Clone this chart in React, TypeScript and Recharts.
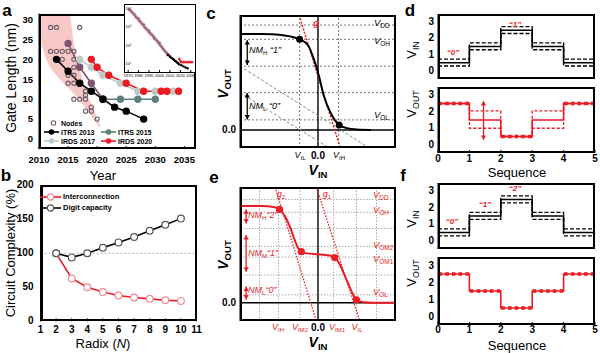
import React from 'react';
import { ComposedChart, Line, Scatter, Area, XAxis, YAxis, ReferenceLine } from 'recharts';

const W = 600;
const H = 353;
const FONT = '"Liberation Sans", Arial, sans-serif';
const RED = '#ec1c24';

// ---------- panel a: gate length roadmaps
const itrs2013 = [
  { x: 2013, y: 20 }, { x: 2015, y: 17 }, { x: 2017, y: 14 }, { x: 2019, y: 12 },
  { x: 2021, y: 10 }, { x: 2023, y: 8 }, { x: 2025, y: 7 }, { x: 2028, y: 5 },
];
const itrs2015Early = [{ x: 2015, y: 24 }, { x: 2017, y: 18 }, { x: 2019, y: 14 }, { x: 2021, y: 10 }];
const itrs2015 = [{ x: 2021, y: 10 }, { x: 2024, y: 10 }, { x: 2027, y: 10 }, { x: 2030, y: 10 }];
const irds2017 = [
  { x: 2017, y: 20 }, { x: 2019, y: 18 }, { x: 2021, y: 16 }, { x: 2024, y: 14 },
  { x: 2027, y: 12 }, { x: 2030, y: 12 }, { x: 2033, y: 12 },
];
const irds2020 = [
  { x: 2019, y: 20 }, { x: 2020, y: 18 }, { x: 2022, y: 16 }, { x: 2025, y: 14 },
  { x: 2028, y: 12 }, { x: 2031, y: 12 }, { x: 2032, y: 12 }, { x: 2034, y: 12 },
];
const nodes = [
  { x: 2012, y: 28 }, { x: 2013, y: 28 }, { x: 2017, y: 28 },
  { x: 2012, y: 22 }, { x: 2013, y: 22 }, { x: 2014, y: 22 }, { x: 2015, y: 22 }, { x: 2016, y: 22 },
  { x: 2014, y: 20 }, { x: 2016, y: 20 }, { x: 2016, y: 18 },
  { x: 2015, y: 16 }, { x: 2016, y: 16 }, { x: 2015, y: 14 }, { x: 2016, y: 14 },
  { x: 2018, y: 12 }, { x: 2018, y: 11 }, { x: 2016, y: 10 }, { x: 2017, y: 10 }, { x: 2018, y: 10 },
  { x: 2018, y: 7 }, { x: 2019, y: 8 }, { x: 2019, y: 7 }, { x: 2020, y: 5 },
];
// shaded scaling band, [lower, upper] gate length per year
const scalingBand = [
  { x: 2010.4, band: [24, 31.5] }, { x: 2011, band: [21, 31.5] }, { x: 2012, band: [17.8, 31.5] },
  { x: 2013, band: [16, 31.5] }, { x: 2014, band: [14.3, 31.5] }, { x: 2015.2, band: [12.6, 31.5] },
  { x: 2016, band: [11.3, 24] }, { x: 2016.5, band: [10.5, 20.3] }, { x: 2017.5, band: [8.7, 15] },
  { x: 2018.6, band: [6.5, 10.2] }, { x: 2019.5, band: [4.8, 7] }, { x: 2020.3, band: [3.3, 4.2] },
  { x: 2020.7, band: [3, 3] },
];
const yearTicks = [2010, 2015, 2020, 2025, 2030, 2035];
const gateTicks = [0, 5, 10, 15, 20, 25, 30];

// inset: historical gate length (log)
const insetHistory = [
  { x: 1971, y: 10000 }, { x: 1972, y: 8500 }, { x: 1973, y: 8000 }, { x: 1974, y: 6500 }, { x: 1975, y: 6000 },
  { x: 1976, y: 5000 }, { x: 1977, y: 4200 }, { x: 1978, y: 3500 }, { x: 1979, y: 3200 }, { x: 1980, y: 2600 },
  { x: 1981, y: 2200 }, { x: 1982, y: 2000 }, { x: 1983, y: 1600 }, { x: 1984, y: 1500 }, { x: 1985, y: 1200 },
  { x: 1986, y: 1000 }, { x: 1987, y: 900 }, { x: 1988, y: 750 }, { x: 1989, y: 700 }, { x: 1990, y: 550 },
  { x: 1991, y: 500 }, { x: 1992, y: 420 }, { x: 1993, y: 380 }, { x: 1994, y: 320 }, { x: 1995, y: 280 },
  { x: 1996, y: 230 }, { x: 1997, y: 200 }, { x: 1998, y: 170 }, { x: 1999, y: 140 }, { x: 2000, y: 120 },
  { x: 2001, y: 100 }, { x: 2002, y: 85 }, { x: 2003, y: 70 }, { x: 2004, y: 60 }, { x: 2005, y: 50 },
  { x: 2006, y: 44 }, { x: 2007, y: 38 }, { x: 2008, y: 33 }, { x: 2009, y: 29 }, { x: 2010, y: 26 },
  { x: 1980, y: 3000 }, { x: 1985, y: 1400 }, { x: 1990, y: 650 }, { x: 1995, y: 240 }, { x: 2000, y: 140 },
];
const insetItrs = [
  { x: 2008, y: 30 }, { x: 2010, y: 24 }, { x: 2011, y: 22 }, { x: 2012, y: 20 }, { x: 2013, y: 18 },
  { x: 2014, y: 16 }, { x: 2015, y: 14 }, { x: 2016, y: 13 }, { x: 2017, y: 11 }, { x: 2018, y: 10 },
  { x: 2019, y: 9 }, { x: 2021, y: 8 }, { x: 2023, y: 7 }, { x: 2025, y: 6 }, { x: 2027, y: 5.5 },
];
const insetIrds = [
  { x: 2019, y: 18 }, { x: 2020, y: 14 }, { x: 2021, y: 12 }, { x: 2023, y: 12 }, { x: 2025, y: 12 },
  { x: 2027, y: 12 }, { x: 2029, y: 12 }, { x: 2031, y: 12 },
];
const insetYearTicks = [1970, 1980, 1990, 2000, 2010, 2020, 2030];
const insetLogTicks = [10, 100, 1000, 10000];
const insetLogLabels: Record<number, string> = { 10: '10¹', 100: '10²', 1000: '10³', 10000: '10⁴' };

// ---------- panel b: circuit complexity vs radix
const interconnection = [
  { x: 2, y: 100 }, { x: 3, y: 63 }, { x: 4, y: 50 }, { x: 5, y: 43 }, { x: 6, y: 38 },
  { x: 7, y: 35 }, { x: 8, y: 33 }, { x: 9, y: 31 }, { x: 10, y: 30 },
];
const digitCapacity = [
  { x: 2, y: 100 }, { x: 3, y: 94 }, { x: 4, y: 100 }, { x: 5, y: 108 }, { x: 6, y: 116 },
  { x: 7, y: 124 }, { x: 8, y: 133 }, { x: 9, y: 142 }, { x: 10, y: 151 },
];
const radixTicks = [1, 2, 3, 4, 5, 6, 7, 8, 9, 10, 11];
const complexityTicks = [0, 50, 100, 150, 200];

// ---------- panel c: binary inverter transfer curve
const binaryVtc = [
  { x: -1.4, y: 2.29 }, { x: -1.0, y: 2.285 }, { x: -0.7, y: 2.27 }, { x: -0.5, y: 2.23 },
  { x: -0.33, y: 2.16 }, { x: -0.18, y: 2.02 }, { x: -0.07, y: 1.67 }, { x: 0.02, y: 1.27 },
  { x: 0.11, y: 0.79 }, { x: 0.23, y: 0.4 }, { x: 0.38, y: 0.12 }, { x: 0.5, y: 0.05 },
  { x: 0.7, y: 0.01 }, { x: 0.95, y: 0 },
];
const binaryPoints = [{ x: -0.33, y: 2.16 }, { x: 0.38, y: 0.12 }];
const binaryGain = [{ x: -0.34, y: 2.74 }, { x: 0.4, y: -0.43 }];
const binaryLoadA = [{ x: -1.4, y: 1.52 }, { x: 0.92, y: -0.43 }];
const binaryLoadB = [{ x: -1.4, y: 0.89 }, { x: 0.2, y: -0.43 }];
const binaryLevels = [2.5, 2.16, 1.52, 0.89, 0.24];
const binaryInputs = [-0.33, 0.37];
const binaryMargins = [{ x: -1.27, top: 2.14, bottom: 1.55 }, { x: -1.27, top: 0.88, bottom: 0.25 }];

// ---------- panel e: ternary inverter transfer curve
const ternaryVtc = [
  { x: -1.4, y: 2.33 }, { x: -1.0, y: 2.33 }, { x: -0.8, y: 2.31 }, { x: -0.69, y: 2.25 },
  { x: -0.6, y: 2.1 }, { x: -0.5, y: 1.82 }, { x: -0.42, y: 1.52 }, { x: -0.35, y: 1.3 },
  { x: -0.3, y: 1.23 }, { x: -0.2, y: 1.19 }, { x: 0, y: 1.17 }, { x: 0.2, y: 1.14 },
  { x: 0.3, y: 1.09 }, { x: 0.38, y: 0.95 }, { x: 0.45, y: 0.75 }, { x: 0.53, y: 0.5 },
  { x: 0.6, y: 0.28 }, { x: 0.69, y: 0.07 }, { x: 0.8, y: 0.02 }, { x: 1.0, y: 0 }, { x: 1.4, y: 0 },
];
const ternaryPoints = [{ x: -0.69, y: 2.25 }, { x: -0.3, y: 1.23 }, { x: 0.3, y: 1.09 }, { x: 0.69, y: 0.07 }];
const ternaryG2 = [{ x: -0.77, y: 2.79 }, { x: -0.03, y: -0.44 }];
const ternaryG1 = [{ x: -0.03, y: 2.79 }, { x: 0.75, y: -0.44 }];
const ternaryLevels = [2.49, 2.18, 1.79, 1.36, 1.1, 0.67, 0.19];
const ternaryInputs = [-1.05, -0.71, -0.32, 0.28, 0.69, 1.05];
const ternaryMargins = [
  { x: -1.29, top: 2.25, bottom: 1.91 }, { x: -1.29, top: 1.63, bottom: 0.75 }, { x: -1.29, top: 0.39, bottom: 0.08 },
];

// ---------- panels d, f: input / output sequences
const seqTicks = [0, 1, 2, 3, 4, 5];
const levelTicks = [0, 1, 2, 3];
const vin = [{ x: 0, y: 0.5 }, { x: 1, y: 1.5 }, { x: 2, y: 2.5 }, { x: 3, y: 1.5 }, { x: 4, y: 0.5 }, { x: 5, y: 0.5 }];
const vinHigh = [{ x: 0, y: 0.72 }, { x: 1, y: 1.72 }, { x: 2, y: 2.72 }, { x: 3, y: 1.72 }, { x: 4, y: 0.72 }, { x: 5, y: 0.72 }];
const vinLow = [{ x: 0, y: 0.3 }, { x: 1, y: 1.3 }, { x: 2, y: 2.3 }, { x: 3, y: 1.3 }, { x: 4, y: 0.3 }, { x: 5, y: 0.3 }];
const voutBinary = [{ x: 0, y: 2.5 }, { x: 1, y: 1.5 }, { x: 2, y: 0.5 }, { x: 3, y: 1.5 }, { x: 4, y: 2.5 }, { x: 5, y: 2.5 }];
const voutBinaryHigh = [{ x: 0, y: 2.5 }, { x: 1, y: 2.05 }, { x: 2, y: 0.5 }, { x: 3, y: 2.05 }, { x: 4, y: 2.5 }, { x: 5, y: 2.5 }];
const voutBinaryLow = [{ x: 0, y: 2.5 }, { x: 1, y: 1.0 }, { x: 2, y: 0.5 }, { x: 3, y: 1.0 }, { x: 4, y: 2.5 }, { x: 5, y: 2.5 }];
const voutBinaryMarks = [
  { x: 0.07, y: 2.5 }, { x: 0.29, y: 2.5 }, { x: 0.5, y: 2.5 }, { x: 0.71, y: 2.5 }, { x: 0.93, y: 2.5 },
  { x: 2.07, y: 0.5 }, { x: 2.29, y: 0.5 }, { x: 2.5, y: 0.5 }, { x: 2.71, y: 0.5 }, { x: 2.93, y: 0.5 },
  { x: 4.07, y: 2.5 }, { x: 4.29, y: 2.5 }, { x: 4.5, y: 2.5 }, { x: 4.71, y: 2.5 }, { x: 4.93, y: 2.5 },
];
const voutBinarySwing = [{ x: 1.45, top: 2.65, bottom: 0.3 }];
const voutTernary = [{ x: 0, y: 2.5 }, { x: 1, y: 1.5 }, { x: 2, y: 0.5 }, { x: 3, y: 1.5 }, { x: 4, y: 2.5 }, { x: 5, y: 2.5 }];
const voutTernaryMarks = [
  { x: 0.07, y: 2.5 }, { x: 0.29, y: 2.5 }, { x: 0.5, y: 2.5 }, { x: 0.71, y: 2.5 }, { x: 0.93, y: 2.5 },
  { x: 1.07, y: 1.5 }, { x: 1.29, y: 1.5 }, { x: 1.5, y: 1.5 }, { x: 1.71, y: 1.5 }, { x: 1.93, y: 1.5 },
  { x: 2.07, y: 0.5 }, { x: 2.29, y: 0.5 }, { x: 2.5, y: 0.5 }, { x: 2.71, y: 0.5 }, { x: 2.93, y: 0.5 },
  { x: 3.07, y: 1.5 }, { x: 3.29, y: 1.5 }, { x: 3.5, y: 1.5 }, { x: 3.71, y: 1.5 }, { x: 3.93, y: 1.5 },
  { x: 4.07, y: 2.5 }, { x: 4.29, y: 2.5 }, { x: 4.5, y: 2.5 }, { x: 4.71, y: 2.5 }, { x: 4.93, y: 2.5 },
];

// plot frames in page pixels [left, top, right, bottom]
const boxA: number[] = [39, 13.5, 196, 149];
const boxInset: number[] = [124, 4, 196, 73];
const boxB: number[] = [40.5, 185.3, 196.5, 321.3];
const boxC: number[] = [240, 15, 396, 148];
const boxE: number[] = [240, 187, 396, 321];
const boxD1: number[] = [438, 14, 595, 79];
const boxD2: number[] = [438, 87, 595, 153];
const boxF1: number[] = [438, 183, 595, 249];
const boxF2: number[] = [438, 257, 595, 325];

// ---------- helpers
const Sub = ({ children }: any) => (
  <span style={{ fontSize: '0.68em', verticalAlign: '-0.3em', fontStyle: 'normal' }}>{children}</span>
);

function Txt({ x, y, children, size = 10, bold = false, italic = false, color = '#000', align = 'center', rot = 0 }: any) {
  const tx = align === 'center' ? '-50%' : align === 'right' ? '-100%' : '0';
  return (
    <div
      style={{
        position: 'absolute', left: x, top: y, transform: `translate(${tx},-50%) rotate(${rot}deg)`,
        fontFamily: FONT, fontSize: size, fontWeight: bold ? 700 : 400, fontStyle: italic ? 'italic' : 'normal',
        color, whiteSpace: 'nowrap', lineHeight: 1,
      }}
    >
      {children}
    </div>
  );
}

// y tick labels beside a frame, on the same domain as its axis
function yLabels(id: string, box: number[], domain: number[], ticks: number[], size: number, gap: number, log = false, fmt?: any) {
  const [l, t, , b] = box;
  const f = (v: number) => (log ? Math.log10(v) : v);
  const lo = f(domain[0]);
  const hi = f(domain[1]);
  return ticks.map((v) => {
    const top = t + ((hi - f(v)) / (hi - lo)) * (b - t);
    const text = fmt ? fmt(v) : String(v);
    return log ? (
      <div key={`${id}${v}`} style={{ position: 'absolute', left: l + 1.5, top: top - size / 2, fontFamily: FONT, fontSize: size, lineHeight: 1, color: '#000', whiteSpace: 'nowrap' }}>
        {text}
      </div>
    ) : (
      <div key={`${id}${v}`} style={{ position: 'absolute', left: l - gap - 30, width: 30, top: top - size / 2, textAlign: 'right', fontFamily: FONT, fontSize: size, fontWeight: 700, lineHeight: 1, color: '#000', whiteSpace: 'nowrap' }}>
        {text}
      </div>
    );
  });
}

// area = [left, top, width, height] of the chart itself; box = plot frame in page pixels
function Plot({
  area, box, xDomain, yDomain, xTicks, yTicks, xLabels = true, yScale, fs = 'fs10',
  xMargin = 6, bg = false, border = 2, yw = 30, xh = 20, children,
}: any) {
  const [ox, oy, cw, ch] = area;
  const [l, t, r, b] = box;
  const yProps: any = yScale ? { scale: yScale } : {};
  return (
    <>
      {bg && <div style={{ position: 'absolute', left: l, top: t, width: r - l, height: b - t, background: '#fff' }} />}
      <div className={fs} style={{ position: 'absolute', left: ox, top: oy, width: cw, height: ch }}>
        <ComposedChart
          width={cw} height={ch}
          margin={{ top: t - oy, left: l - ox - yw, right: ox + cw - r, bottom: oy + ch - b - xh }}
        >
          <XAxis
            type="number" dataKey="x" domain={xDomain} ticks={xTicks} allowDataOverflow interval={0} height={xh}
            stroke="#000" axisLine={false} tick={!!(xTicks && xLabels)}
            tickLine={!!xTicks} tickSize={-3} tickMargin={xMargin}
          />
          <YAxis
            {...yProps}
            type="number" dataKey="y" domain={yDomain} ticks={yTicks} allowDataOverflow interval={0} width={yw}
            stroke="#000" tick={false} tickLine={!!yTicks} tickSize={-3}
          />
          {children}
        </ComposedChart>
      </div>
      <div
        style={{
          position: 'absolute', left: l, top: t, width: r - l, height: b - t,
          border: `${border}px solid #000`, boxSizing: 'border-box', pointerEvents: 'none',
        }}
      />
    </>
  );
}

const arrowShape = (color: string) => (p: any) => {
  const { cx, cy, payload } = p;
  const s = 2.6;
  const h = payload.dir === 'up' ? s * 1.7 : -s * 1.7;
  return <path d={`M${cx},${cy} L${cx - s},${cy + h} L${cx + s},${cy + h} Z`} fill={color} />;
};

const squareShape = (p: any) => <rect x={p.cx - 1.8} y={p.cy - 1.8} width={3.6} height={3.6} fill={RED} />;

function arrowLines(list: any[], color: string, id: string) {
  return list.map((a, i) => (
    <Line
      key={`${id}${i}`} data={[{ x: a.x, y: a.top }, { x: a.x, y: a.bottom }]} dataKey="y"
      stroke={color} strokeWidth={1.3} dot={false} activeDot={false} isAnimationActive={false}
    />
  ));
}
function arrowHeads(list: any[]) {
  const pts: any[] = [];
  list.forEach((a) => {
    pts.push({ x: a.x, y: a.top, dir: 'up' });
    pts.push({ x: a.x, y: a.bottom, dir: 'down' });
  });
  return pts;
}

function LegendRow({ x, y, color, label, len = 15, dot = 'fill', size = 7 }: any) {
  return (
    <>
      <svg style={{ position: 'absolute', left: x, top: y - 5 }} width={len} height={10}>
        {dot !== 'only' && <line x1={0} y1={5} x2={len} y2={5} stroke={color} strokeWidth={1.6} />}
        {dot === 'fill' && <circle cx={len / 2} cy={5} r={2.8} fill={color} />}
        {dot === 'hollow' && <circle cx={len / 2} cy={5} r={3.2} fill="#fff" stroke={color === RED ? '#f08a94' : '#555'} strokeWidth={1.2} />}
        {dot === 'only' && <circle cx={len / 2} cy={5} r={2.2} fill="none" stroke="#6e5a6b" strokeWidth={1.1} />}
      </svg>
      <Txt x={x + len + 2} y={y} size={size} bold align="left">{label}</Txt>
    </>
  );
}

const GRAY15 = '#5e7f7b';
const GRAY17 = '#bfcac7';
const MAUVE = '#7e5470';

const css = `
.fs10 .recharts-cartesian-axis-tick-value, .fs95 .recharts-cartesian-axis-tick-value, .fs4 .recharts-cartesian-axis-tick-value {
  font-family: "Liberation Sans", Arial, sans-serif; font-weight: 700; fill: #000;
}
.fs10 .recharts-cartesian-axis-tick-value { font-size: 10px; }
.fs95 .recharts-cartesian-axis-tick-value { font-size: 9.5px; }
.fs4 .recharts-cartesian-axis-tick-value { font-size: 4px; font-weight: 400; }
`;

export default function App() {
  const sq = (v: string) => <>“{v}”</>;
  return (
    <div style={{ position: 'absolute', left: 0, top: 0, width: W, height: H, background: '#fff' }}>
      <style>{css}</style>
      {/* ---------------- a ---------------- */}
      <Plot area={[0, 0, 200, 170]} box={boxA} xDomain={[2010, 2037]} yDomain={[-2.5, 31.5]}
        xTicks={yearTicks} yTicks={gateTicks} xMargin={10} fs="fs95">
        <Area data={scalingBand} dataKey="band" type="monotone" stroke="none" fill="#f6c9c6" fillOpacity={1} isAnimationActive={false} />
        <Scatter data={nodes} dataKey="y" isAnimationActive={false}
          shape={(p: any) => <circle cx={p.cx} cy={p.cy} r={2.1} fill="none" stroke="#6e5a6b" strokeWidth={1.1} />} />
        <Line data={irds2017} dataKey="y" stroke={GRAY17} strokeWidth={1.6} dot={{ r: 2.9, fill: GRAY17, stroke: GRAY17 }} activeDot={false} isAnimationActive={false} />
        <Line data={itrs2015} dataKey="y" stroke={GRAY15} strokeWidth={1.6} dot={{ r: 2.9, fill: GRAY15, stroke: GRAY15 }} activeDot={false} isAnimationActive={false} />
        <Line data={itrs2015Early} dataKey="y" stroke={MAUVE} strokeWidth={1.6} dot={{ r: 2.9, fill: MAUVE, stroke: MAUVE }} activeDot={false} isAnimationActive={false} />
        <Line data={irds2020} dataKey="y" stroke={RED} strokeWidth={1.6} dot={{ r: 2.9, fill: RED, stroke: RED }} activeDot={false} isAnimationActive={false} />
        <Line data={itrs2013} dataKey="y" stroke="#000" strokeWidth={1.6} dot={{ r: 2.9, fill: '#000', stroke: '#000' }} activeDot={false} isAnimationActive={false} />
      </Plot>
      <Plot area={[122, 2, 76, 80]} box={boxInset} xDomain={[1966, 2035]} yDomain={[3, 20000]} yScale="log"
        xTicks={insetYearTicks} yTicks={insetLogTicks} xMargin={4} yw={0} xh={8} bg border={1} fs="fs4">
        <Scatter data={insetHistory} dataKey="y" isAnimationActive={false}
          shape={(p: any) => <circle cx={p.cx} cy={p.cy} r={1.3} fill="#8c5a6c" stroke="#c48c98" strokeWidth={0.5} />} />
        <Scatter data={insetItrs} dataKey="y" isAnimationActive={false}
          shape={(p: any) => <circle cx={p.cx} cy={p.cy} r={1.2} fill="#000" />} />
        <Scatter data={insetIrds} dataKey="y" isAnimationActive={false}
          shape={(p: any) => <circle cx={p.cx} cy={p.cy} r={1.3} fill={RED} />} />
      </Plot>
      <LegendRow x={48} y={122.7} color="#6e5a6b" label="Nodes" len={11} dot="only" />
      <LegendRow x={44} y={131.7} color="#000" label="ITRS 2013" />
      <LegendRow x={101} y={131.7} color={GRAY15} label="ITRS 2015" />
      <LegendRow x={44} y={140.7} color={GRAY17} label="IRDS 2017" />
      <LegendRow x={101} y={140.7} color={RED} label="IRDS 2020" />
      <Txt x={11} y={78} size={14} rot={-90}>Gate Length (nm)</Txt>
      <Txt x={103} y={174.5} size={13}>Year</Txt>
      <Txt x={7} y={10} size={17} bold>a</Txt>

      {/* ---------------- b ---------------- */}
      <Plot area={[0, 172, 206, 181]} box={boxB} xDomain={[1, 11]} yDomain={[0, 200]}
        xTicks={radixTicks} yTicks={complexityTicks} xMargin={8}>
        <ReferenceLine y={100} stroke="#b5b5b5" strokeDasharray="2 2" strokeWidth={1} />
        <Line data={interconnection} dataKey="y" stroke={RED} strokeWidth={1.6}
          dot={{ r: 3.4, fill: '#fff', stroke: '#f08a94', strokeWidth: 1.2 }} activeDot={false} isAnimationActive={false} />
        <Line data={digitCapacity} dataKey="y" stroke="#000" strokeWidth={1.6}
          dot={{ r: 3.4, fill: '#fff', stroke: '#555', strokeWidth: 1.2 }} activeDot={false} isAnimationActive={false} />
      </Plot>
      <LegendRow x={40} y={197.3} color={RED} label="Interconnection" len={21} dot="hollow" size={7.5} />
      <LegendRow x={40} y={207.7} color="#000" label="Digit capacity" len={21} dot="hollow" size={7.5} />
      <Txt x={10} y={253} size={13} rot={-90}>Circuit Complexity (%)</Txt>
      <Txt x={103} y={343} size={13}>Radix (<i>N</i>)</Txt>
      <Txt x={6} y={175} size={17} bold>b</Txt>

      {/* ---------------- c ---------------- */}
      <Plot area={[200, 0, 200, 170]} box={boxC} xDomain={[-1.4, 1.4]} yDomain={[-0.43, 2.74]}>
        {binaryLevels.map((v) => <ReferenceLine key={`cl${v}`} y={v} stroke="#777" strokeDasharray="2 2" strokeWidth={1} />)}
        {binaryInputs.map((v) => <ReferenceLine key={`ci${v}`} x={v} stroke="#777" strokeDasharray="2 2" strokeWidth={1} />)}
        <ReferenceLine x={0} stroke="#000" strokeWidth={1.4} />
        <ReferenceLine y={0} stroke="#000" strokeWidth={1.4} />
        <Line data={binaryLoadA} dataKey="y" stroke="#7d9088" strokeDasharray="3 2" strokeWidth={1} dot={false} activeDot={false} isAnimationActive={false} />
        <Line data={binaryLoadB} dataKey="y" stroke="#7d9088" strokeDasharray="3 2" strokeWidth={1} dot={false} activeDot={false} isAnimationActive={false} />
        <Line data={binaryGain} dataKey="y" stroke={RED} strokeDasharray="2 1.5" strokeWidth={1.5} dot={false} activeDot={false} isAnimationActive={false} />
        <Line data={binaryVtc} dataKey="y" type="monotone" stroke="#000" strokeWidth={2} dot={false} activeDot={false} isAnimationActive={false} />
        <Scatter data={binaryPoints} dataKey="y" isAnimationActive={false} shape={(p: any) => <circle cx={p.cx} cy={p.cy} r={3.5} fill="#000" />} />
        {arrowLines(binaryMargins, '#000', 'cm')}
        <Scatter data={arrowHeads(binaryMargins)} dataKey="y" isAnimationActive={false} shape={arrowShape('#000')} />
      </Plot>
      <Txt x={249} y={50.5} size={9} italic align="left">NM<Sub>H</Sub> {sq('1')}</Txt>
      <Txt x={249} y={107} size={9} italic align="left">NM<Sub>L</Sub> {sq('0')}</Txt>
      <Txt x={374} y={24} size={9.5} italic align="left">V<Sub>DD</Sub></Txt>
      <Txt x={374} y={42} size={9.5} italic align="left">V<Sub>OH</Sub></Txt>
      <Txt x={374} y={116} size={9.5} italic align="left">V<Sub>OL</Sub></Txt>
      <Txt x={316} y={23} size={9} italic bold color={RED}>g</Txt>
      <Txt x={236} y={130} size={10} bold align="right">0.0</Txt>
      <Txt x={300} y={156} size={9} italic>V<Sub>IL</Sub></Txt>
      <Txt x={318} y={156} size={10} bold>0.0</Txt>
      <Txt x={339} y={156} size={9} italic>V<Sub>IH</Sub></Txt>
      <Txt x={318} y={171} size={14} bold><i>V</i><Sub>IN</Sub></Txt>
      <Txt x={224} y={84} size={14} bold rot={-90}><i>V</i><Sub>OUT</Sub></Txt>
      <Txt x={211} y={13} size={17} bold>c</Txt>

      {/* ---------------- e ---------------- */}
      <Plot area={[200, 172, 200, 181]} box={boxE} xDomain={[-1.4, 1.4]} yDomain={[-0.44, 2.79]}>
        {ternaryLevels.map((v) => <ReferenceLine key={`el${v}`} y={v} stroke="#aaa" strokeDasharray="1.5 1.5" strokeWidth={1} />)}
        {ternaryInputs.map((v) => <ReferenceLine key={`ei${v}`} x={v} stroke="#aaa" strokeDasharray="1.5 1.5" strokeWidth={1} />)}
        <ReferenceLine x={0} stroke="#000" strokeWidth={1.4} />
        <ReferenceLine y={0} stroke="#000" strokeWidth={1.4} />
        <Line data={ternaryG2} dataKey="y" stroke={RED} strokeDasharray="1.5 1.5" strokeWidth={1.3} dot={false} activeDot={false} isAnimationActive={false} />
        <Line data={ternaryG1} dataKey="y" stroke={RED} strokeDasharray="1.5 1.5" strokeWidth={1.3} dot={false} activeDot={false} isAnimationActive={false} />
        <Line data={ternaryVtc} dataKey="y" type="monotone" stroke={RED} strokeWidth={2} dot={false} activeDot={false} isAnimationActive={false} />
        <Scatter data={ternaryPoints} dataKey="y" isAnimationActive={false} shape={(p: any) => <circle cx={p.cx} cy={p.cy} r={3.6} fill={RED} />} />
        {arrowLines(ternaryMargins, RED, 'em')}
        <Scatter data={arrowHeads(ternaryMargins)} dataKey="y" isAnimationActive={false} shape={arrowShape(RED)} />
      </Plot>
      <Txt x={248} y={216} size={9} italic align="left" color={RED}>NM<Sub>H</Sub>{sq('2')}</Txt>
      <Txt x={248} y={254} size={9} italic align="left" color={RED}>NM<Sub>M</Sub>{sq('1')}</Txt>
      <Txt x={248} y={291} size={9} italic align="left" color={RED}>NM<Sub>L</Sub>{sq('0')}</Txt>
      <Txt x={373} y={196} size={9.5} italic align="left" color={RED}>V<Sub>DD</Sub></Txt>
      <Txt x={373} y={211} size={9.5} italic align="left" color={RED}>V<Sub>OH</Sub></Txt>
      <Txt x={373} y={246} size={9.5} italic align="left" color={RED}>V<Sub>OM2</Sub></Txt>
      <Txt x={373} y={260} size={9.5} italic align="left" color={RED}>V<Sub>OM1</Sub></Txt>
      <Txt x={373} y={293} size={9.5} italic align="left" color={RED}>V<Sub>OL</Sub></Txt>
      <Txt x={281} y={195} size={9} italic color={RED}>g<Sub>2</Sub></Txt>
      <Txt x={327} y={195} size={9} italic color={RED}>g<Sub>1</Sub></Txt>
      <Txt x={236} y={303} size={10} bold align="right">0.0</Txt>
      <Txt x={278} y={328} size={9} italic color={RED}>V<Sub>IH</Sub></Txt>
      <Txt x={300} y={328} size={9} italic color={RED}>V<Sub>IM2</Sub></Txt>
      <Txt x={318} y={328} size={10} bold>0.0</Txt>
      <Txt x={337} y={328} size={9} italic color={RED}>V<Sub>IM1</Sub></Txt>
      <Txt x={357} y={328} size={9} italic color={RED}>V<Sub>IL</Sub></Txt>
      <Txt x={318} y={343} size={14} bold><i>V</i><Sub>IN</Sub></Txt>
      <Txt x={224} y={255} size={14} bold rot={-90}><i>V</i><Sub>OUT</Sub></Txt>
      <Txt x={214} y={177} size={17} bold>e</Txt>

      {/* ---------------- d ---------------- */}
      <Plot area={[400, 0, 200, 83]} box={boxD1} xDomain={[0, 5]} yDomain={[-0.5, 3.5]}
        xTicks={seqTicks} yTicks={levelTicks} xLabels={false} xh={4}>
        <Line data={vinHigh} dataKey="y" type="stepAfter" stroke="#000" strokeDasharray="4 2" strokeWidth={1.3} dot={false} activeDot={false} isAnimationActive={false} />
        <Line data={vinLow} dataKey="y" type="stepAfter" stroke="#000" strokeDasharray="4 2" strokeWidth={1.3} dot={false} activeDot={false} isAnimationActive={false} />
        <Line data={vin} dataKey="y" type="stepAfter" stroke="#000" strokeWidth={1.6} dot={false} activeDot={false} isAnimationActive={false} />
      </Plot>
      <Plot area={[400, 83, 200, 90]} box={boxD2} xDomain={[0, 5]} yDomain={[-0.5, 3.5]}
        xTicks={seqTicks} yTicks={levelTicks} xMargin={5}>
        <Line data={voutBinaryHigh} dataKey="y" type="stepAfter" stroke={RED} strokeDasharray="3 2" strokeWidth={1.3} dot={false} activeDot={false} isAnimationActive={false} />
        <Line data={voutBinaryLow} dataKey="y" type="stepAfter" stroke={RED} strokeDasharray="3 2" strokeWidth={1.3} dot={false} activeDot={false} isAnimationActive={false} />
        <Line data={voutBinary} dataKey="y" type="stepAfter" stroke={RED} strokeWidth={1.6} dot={false} activeDot={false} isAnimationActive={false} />
        <Scatter data={voutBinaryMarks} dataKey="y" isAnimationActive={false} shape={squareShape} />
        {arrowLines(voutBinarySwing, RED, 'dm')}
        <Scatter data={arrowHeads(voutBinarySwing)} dataKey="y" isAnimationActive={false} shape={arrowShape(RED)} />
      </Plot>
      <Txt x={453} y={53} size={8} italic bold color={RED}>{sq('0')}</Txt>
      <Txt x={515} y={25} size={8} italic bold color={RED}>{sq('1')}</Txt>
      <Txt x={413} y={50} size={13} rot={-90}>V<Sub>IN</Sub></Txt>
      <Txt x={413} y={104} size={13} rot={-90}>V<Sub>OUT</Sub></Txt>
      <Txt x={517} y={172} size={13}>Sequence</Txt>
      <Txt x={410} y={10} size={17} bold>d</Txt>

      {/* ---------------- f ---------------- */}
      <Plot area={[400, 173, 200, 80]} box={boxF1} xDomain={[0, 5]} yDomain={[-0.5, 3.5]}
        xTicks={seqTicks} yTicks={levelTicks} xLabels={false} xh={4}>
        <Line data={vinHigh} dataKey="y" type="stepAfter" stroke="#000" strokeDasharray="4 2" strokeWidth={1.3} dot={false} activeDot={false} isAnimationActive={false} />
        <Line data={vinLow} dataKey="y" type="stepAfter" stroke="#000" strokeDasharray="4 2" strokeWidth={1.3} dot={false} activeDot={false} isAnimationActive={false} />
        <Line data={vin} dataKey="y" type="stepAfter" stroke="#000" strokeWidth={1.6} dot={false} activeDot={false} isAnimationActive={false} />
      </Plot>
      <Plot area={[400, 253, 200, 100]} box={boxF2} xDomain={[0, 5]} yDomain={[-0.5, 3.5]}
        xTicks={seqTicks} yTicks={levelTicks} xMargin={4}>
        <Line data={voutTernary} dataKey="y" type="stepAfter" stroke={RED} strokeWidth={1.6} dot={false} activeDot={false} isAnimationActive={false} />
        <Scatter data={voutTernaryMarks} dataKey="y" isAnimationActive={false} shape={squareShape} />
      </Plot>
      <Txt x={452} y={222} size={8} italic bold color={RED}>{sq('0')}</Txt>
      <Txt x={485} y={205} size={8} italic bold color={RED}>{sq('1')}</Txt>
      <Txt x={515} y={189} size={8} italic bold color={RED}>{sq('2')}</Txt>
      <Txt x={413} y={219} size={13} rot={-90}>V<Sub>IN</Sub></Txt>
      <Txt x={413} y={273} size={13} rot={-90}>V<Sub>OUT</Sub></Txt>
      <Txt x={517} y={345} size={13}>Sequence</Txt>
      <Txt x={403} y={175} size={17} bold>f</Txt>

      {/* y tick labels, drawn last so nothing sits over them */}
      {yLabels('ya', boxA, [-2.5, 31.5], gateTicks, 9.5, 6)}
      {yLabels('yi', boxInset, [3, 20000], insetLogTicks, 4, 0, true, (v: number) => insetLogLabels[v])}
      {yLabels('yb', boxB, [0, 200], complexityTicks, 10, 7)}
      {yLabels('yd1', boxD1, [-0.5, 3.5], levelTicks, 10, 4)}
      {yLabels('yd2', boxD2, [-0.5, 3.5], levelTicks, 10, 4)}
      {yLabels('yf1', boxF1, [-0.5, 3.5], levelTicks, 10, 4)}
      {yLabels('yf2', boxF2, [-0.5, 3.5], levelTicks, 10, 4)}
    </div>
  );
}
